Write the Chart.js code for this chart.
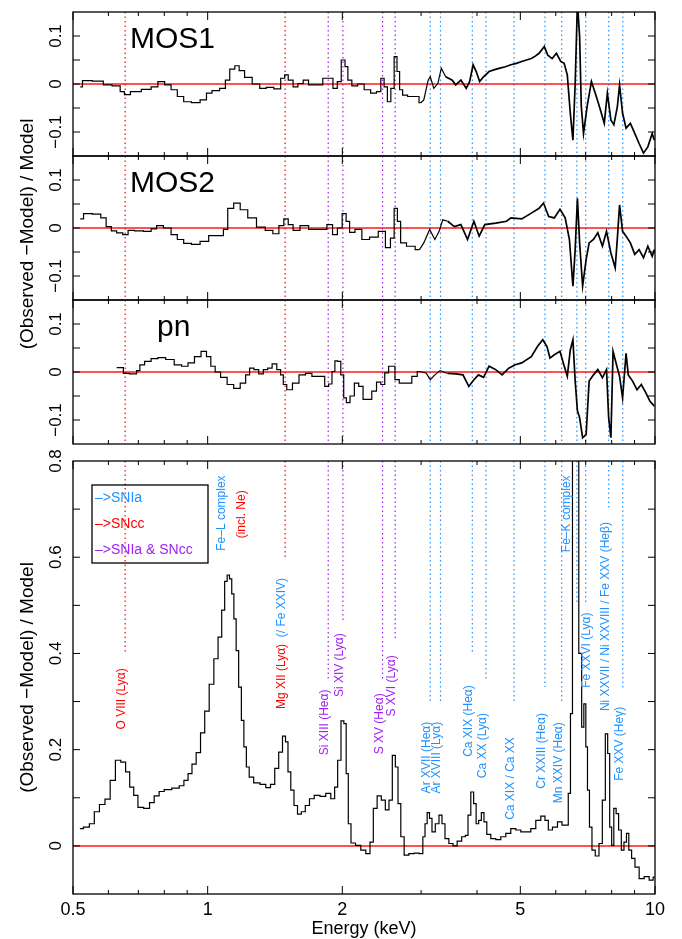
<!DOCTYPE html>
<html>
<head>
<meta charset="utf-8">
<script src="https://cdn.jsdelivr.net/npm/chart.js@4.4.1/dist/chart.umd.min.js"></script>
<style>
  body { margin: 0; background: #fff; }
  #wrap { position: relative; width: 682px; height: 939px; }
  #wrap canvas { position: absolute; left: 0; top: 0; }
</style>
</head>
<body>
<div id="wrap">
  <canvas id="mos1" width="682" height="939"></canvas>
  <canvas id="mos2" width="682" height="939"></canvas>
  <canvas id="pn" width="682" height="939"></canvas>
  <canvas id="sum" width="682" height="939"></canvas>
</div>
<script>
// axis ticks (keV)
const xMajor = [0.5, 1, 2, 5, 10];
const xMajorLabels = ["0.5", "1", "2", "5", "10"];
const xMinor = [0.6, 0.7, 0.8, 0.9, 3, 4, 6, 7, 8, 9];

const resTicks = [-0.1, -0.05, 0, 0.05, 0.1];
const resLabelValues = [-0.1, 0, 0.1];
const resLabels = ["\u22120.1", "0", "0.1"];
const sumTicks = [0, 0.1, 0.2, 0.3, 0.4, 0.5, 0.6, 0.7];
const sumLabelValues = [0, 0.2, 0.4, 0.6, 0.8];
const sumLabels = ["0", "0.2", "0.4", "0.6", "0.8"];

// line energies (keV) and origin
const lineE = [0.654, 1.49, 1.86, 2.006, 2.46, 2.625, 3.145, 3.315, 3.905, 4.19, 4.84, 5.675, 6.185, 6.69, 7.0, 7.88, 8.47];
const lineKind = ["cc", "cc", "both", "both", "both", "both", "ia", "ia", "ia", "ia", "ia", "ia", "ia", "ia", "ia", "ia", "ia"];
// lower end of each dotted line in the summed panel
const lineEndSum = [0.398, 0.597, 0.348, 0.469, 0.348, 0.427, 0.299, 0.299, 0.4, 0.348, 0.299, 0.33, 0.299, 0.5, 0.5, 0.697, 0.327];

const lineLabels = [
    { parts: [["O VIII (Ly\u03b1)", "cc"]], e: 0.654, top: 0.369 },
    { parts: [["Fe\u2013L complex", "ia"]], e: 1.093, top: 0.770 },
    { parts: [["(incl. Ne)", "cc"]], e: 1.209, top: 0.739 },
    { parts: [["Mg XII (Ly\u03b1)", "cc"], ["  (/ Fe XXIV)", "ia"]], e: 1.49, top: 0.557 },
    { parts: [["Si XIII (He\u03b1)", "both"]], e: 1.86, top: 0.325 },
    { parts: [["Si XIV (Ly\u03b1)", "both"]], e: 2.006, top: 0.442 },
    { parts: [["S XV (He\u03b1)", "both"]], e: 2.46, top: 0.317 },
    { parts: [["S XVI (Ly\u03b1)", "both"]], e: 2.625, top: 0.396 },
    { parts: [["Ar XVII (He\u03b1)", "ia"]], e: 3.145, top: 0.258 },
    { parts: [["Ar XVIII (Ly\u03b1)", "ia"]], e: 3.315, top: 0.258 },
    { parts: [["Ca XIX (He\u03b1)", "ia"]], e: 3.905, top: 0.334 },
    { parts: [["Ca XX (Ly\u03b1)", "ia"]], e: 4.19, top: 0.276 },
    { parts: [["Ca XIX / Ca XX", "ia"]], e: 4.84, top: 0.226 },
    { parts: [["Cr XXIII (He\u03b1)", "ia"]], e: 5.675, top: 0.276 },
    { parts: [["Mn XXIV (He\u03b1)", "ia"]], e: 6.185, top: 0.257 },
    { parts: [["Fe\u2013K complex", "ia"]], e: 6.47, top: 0.770 },
    { parts: [["Fe XXVI (Ly\u03b1)", "ia"]], e: 7.17, top: 0.485 },
    { parts: [["Ni XXVII / Ni XXVIII / Fe XXV (He\u03b2)", "ia"]], e: 7.88, top: 0.673 },
    { parts: [["Fe XXV (He\u03b3)", "ia"]], e: 8.47, top: 0.289 }
];

const legendItems = [["\u2013>SNIa", "ia"], ["\u2013>SNcc", "cc"], ["\u2013>SNIa & SNcc", "both"]];

// residuals: [energy keV, (obs - model)/model]
const mos1 = [[0.519,-0.006],[0.531,0.007],[0.575,0.006],[0.594,-0.002],[0.629,-0.004],[0.646,-0.016],[0.657,-0.022],[0.687,-0.016],[0.735,-0.011],[0.760,-0.006],[0.788,0.005],[0.815,-0.002],[0.842,-0.012],[0.869,-0.026],[0.899,-0.037],[0.941,-0.039],[0.983,-0.033],[1.005,-0.019],[1.040,-0.014],[1.087,-0.009],[1.104,0.008],[1.137,0.031],[1.163,0.038],[1.189,0.028],[1.230,0.014],[1.286,0],[1.329,-0.009],[1.375,-0.007],[1.437,-0.010],[1.476,0.012],[1.497,0.019],[1.531,0.008],[1.574,-0.006],[1.609,0.001],[1.662,0.008],[1.700,-0.002],[1.779,-0.002],[1.839,0.012],[1.880,0.012],[1.932,-0.009],[1.966,0.005],[2.012,0.050],[2.044,0.036],[2.072,0.008],[2.129,-0.004],[2.201,0],[2.275,-0.012],[2.353,-0.019],[2.417,-0.016],[2.460,0.012],[2.500,-0.006],[2.544,-0.037],[2.591,-0.009],[2.632,0.057],[2.668,0.026],[2.704,-0.012],[2.752,-0.023],[2.846,-0.026],[2.942,-0.026],[2.995,-0.039],[3.042,-0.033],[3.111,0.008],[3.145,0.015],[3.203,-0.009],[3.270,0.001],[3.329,0.033],[3.405,0.015],[3.522,0.008],[3.585,-0.002],[3.682,0.008],[3.784,-0.009],[3.851,0.005],[3.921,0.040],[3.984,0.026],[4.055,0.005],[4.137,0.015],[4.257,0.026],[4.38,0.030],[4.503,0.033],[4.63,0.036],[4.763,0.040],[4.90,0.043],[5.035,0.047],[5.16,0.050],[5.291,0.053],[5.40,0.058],[5.507,0.064],[5.657,0.078],[5.759,0.060],[5.889,0.053],[6.020,0.064],[6.156,0.047],[6.264,0.043],[6.367,0.019],[6.466,-0.061],[6.554,-0.117],[6.631,0.001],[6.708,0.170],[6.784,0.099],[6.843,-0.047],[6.922,-0.103],[7.050,-0.047],[7.209,0.005],[7.375,-0.023],[7.534,-0.051],[7.702,-0.082],[7.826,-0.019],[7.969,-0.075],[8.092,-0.085],[8.239,-0.047],[8.333,-0.002],[8.463,-0.061],[8.616,-0.092],[8.809,-0.082],[9.011,-0.103],[9.214,-0.124],[9.425,-0.144],[9.638,-0.131],[9.857,-0.103],[9.967,-0.117]];

const mos2 = [[0.519,0.019],[0.537,0.030],[0.569,0.029],[0.585,0.021],[0.601,0.003],[0.617,-0.006],[0.635,-0.010],[0.657,-0.014],[0.671,-0.005],[0.702,-0.006],[0.735,-0.007],[0.760,-0.002],[0.778,0.005],[0.815,0],[0.842,-0.014],[0.869,-0.024],[0.899,-0.032],[0.941,-0.034],[0.983,-0.028],[1.028,-0.016],[1.075,-0.016],[1.094,-0.003],[1.124,0.041],[1.163,0.052],[1.202,0.038],[1.257,0.021],[1.315,0.002],[1.375,-0.005],[1.423,-0.012],[1.463,0.005],[1.497,0.019],[1.531,0.007],[1.574,-0.005],[1.644,0.005],[1.720,-0.003],[1.815,-0.003],[1.880,0.007],[1.924,-0.014],[1.976,0],[2.021,0.030],[2.058,0.014],[2.095,-0.009],[2.174,-0.003],[2.250,-0.024],[2.353,-0.019],[2.460,-0.007],[2.534,-0.041],[2.591,-0.021],[2.632,0.041],[2.679,0.014],[2.721,-0.031],[2.846,-0.038],[2.975,-0.045],[3.042,-0.031],[3.135,-0.003],[3.220,-0.024],[3.292,-0.007],[3.353,0.017],[3.441,0.014],[3.559,0.003],[3.682,0.007],[3.810,-0.024],[3.937,0.014],[4.045,-0.017],[4.165,0.007],[4.405,0.010],[4.657,0.014],[4.763,0.021],[5.035,0.019],[5.291,0.031],[5.507,0.041],[5.632,0.052],[5.786,0.024],[5.955,0.021],[6.132,0.039],[6.298,0.021],[6.437,-0.024],[6.554,-0.121],[6.631,-0.045],[6.708,0.062],[6.784,-0.031],[6.890,-0.121],[7.015,-0.066],[7.125,-0.031],[7.286,-0.024],[7.450,-0.010],[7.629,-0.038],[7.792,-0.007],[7.969,-0.052],[8.147,-0.083],[8.239,-0.021],[8.333,0.048],[8.463,-0.007],[8.616,-0.017],[8.809,-0.031],[9.011,-0.055],[9.214,-0.045],[9.425,-0.062],[9.638,-0.038],[9.857,-0.059],[9.967,-0.045]];

const pn = [[0.626,0.009],[0.646,0.009],[0.650,-0.003],[0.687,-0.004],[0.700,0.003],[0.711,0.015],[0.735,0.022],[0.760,0.028],[0.788,0.030],[0.824,0.026],[0.860,0.015],[0.889,0.012],[0.919,0.019],[0.950,0.032],[0.983,0.043],[1.005,0.032],[1.028,0.012],[1.051,0],[1.087,-0.011],[1.124,-0.026],[1.163,-0.034],[1.202,-0.023],[1.230,-0.006],[1.252,0.008],[1.286,0.005],[1.315,-0.004],[1.349,0.005],[1.375,0.008],[1.412,0.017],[1.443,0.005],[1.468,-0.006],[1.484,-0.026],[1.521,-0.037],[1.574,-0.023],[1.627,-0.006],[1.682,-0.003],[1.739,-0.009],[1.806,-0.009],[1.848,-0.030],[1.880,-0.025],[1.913,0.001],[1.937,0.023],[1.966,0.022],[2.003,-0.006],[2.026,-0.054],[2.058,-0.064],[2.104,-0.050],[2.152,-0.023],[2.201,-0.030],[2.250,-0.057],[2.302,-0.057],[2.353,-0.040],[2.417,-0.021],[2.460,-0.026],[2.516,-0.002],[2.561,0.012],[2.603,0.012],[2.642,-0.016],[2.721,-0.023],[2.813,-0.023],[2.908,-0.009],[2.975,0.001],[3.077,-0.002],[3.145,-0.016],[3.220,-0.006],[3.307,0.003],[3.441,-0.003],[3.590,-0.004],[3.722,-0.006],[3.835,-0.030],[3.937,-0.016],[4.030,-0.006],[4.137,-0.011],[4.257,0.012],[4.405,0.005],[4.553,-0.006],[4.710,0.008],[4.870,0.015],[5.035,0.019],[5.291,0.032],[5.460,0.053],[5.612,0.067],[5.735,0.053],[5.824,0.029],[5.955,0.036],[6.132,0.043],[6.223,0.022],[6.367,-0.009],[6.466,0.046],[6.554,0.067],[6.631,-0.019],[6.708,-0.081],[6.784,-0.095],[6.890,-0.137],[7.015,-0.130],[7.125,-0.019],[7.286,-0.006],[7.450,0.005],[7.629,-0.012],[7.792,0.005],[7.878,-0.095],[7.969,-0.137],[8.058,0.043],[8.202,0.015],[8.333,-0.009],[8.463,-0.054],[8.616,0.039],[8.715,-0.006],[8.910,-0.019],[9.115,-0.037],[9.320,-0.026],[9.535,-0.043],[9.745,-0.061],[9.967,-0.071]];

const summed = [[0.518,0.036],[0.537,0.039],[0.551,0.046],[0.565,0.071],[0.581,0.086],[0.598,0.097],[0.613,0.136],[0.631,0.178],[0.648,0.174],[0.663,0.154],[0.676,0.122],[0.691,0.105],[0.706,0.080],[0.733,0.078],[0.750,0.090],[0.769,0.104],[0.789,0.113],[0.810,0.117],[0.853,0.120],[0.875,0.125],[0.895,0.136],[0.913,0.150],[0.932,0.170],[0.953,0.194],[0.975,0.235],[0.995,0.280],[1.021,0.336],[1.044,0.389],[1.066,0.434],[1.084,0.490],[1.099,0.550],[1.112,0.563],[1.126,0.555],[1.138,0.524],[1.151,0.472],[1.165,0.406],[1.181,0.330],[1.198,0.261],[1.212,0.206],[1.229,0.164],[1.248,0.143],[1.287,0.131],[1.332,0.128],[1.366,0.121],[1.398,0.128],[1.427,0.161],[1.456,0.195],[1.484,0.228],[1.502,0.216],[1.522,0.154],[1.546,0.116],[1.573,0.084],[1.603,0.066],[1.636,0.071],[1.670,0.084],[1.708,0.098],[1.753,0.105],[1.813,0.103],[1.861,0.109],[1.909,0.098],[1.936,0.122],[1.969,0.178],[2.004,0.260],[2.028,0.254],[2.052,0.150],[2.073,0.046],[2.110,0.006],[2.171,0.001],[2.228,-0.009],[2.286,-0.016],[2.326,0.008],[2.366,0.078],[2.419,0.104],[2.470,0.095],[2.521,0.075],[2.565,0.095],[2.609,0.188],[2.646,0.164],[2.682,0.088],[2.723,0.019],[2.776,-0.019],[2.858,-0.016],[2.933,-0.015],[3.009,-0.016],[3.045,0.019],[3.077,0.046],[3.113,0.069],[3.152,0.057],[3.194,0.029],[3.261,0.046],[3.318,0.064],[3.363,0.046],[3.423,0.015],[3.499,0.005],[3.572,0],[3.652,0.010],[3.741,0.019],[3.794,0.022],[3.845,0.064],[3.905,0.112],[3.959,0.088],[4.006,0.046],[4.063,0.053],[4.119,0.069],[4.175,0.050],[4.240,0.024],[4.350,0.015],[4.464,0.013],[4.580,0.019],[4.699,0.026],[4.822,0.036],[4.948,0.033],[5.077,0.029],[5.209,0.029],[5.345,0.036],[5.484,0.053],[5.627,0.062],[5.726,0.053],[5.824,0.033],[5.976,0.039],[6.132,0.050],[6.259,0.043],[6.366,0.043],[6.432,0.109],[6.512,0.275],[6.566,1.3],[6.69,1.3],[6.821,0.400],[6.892,0.247],[6.974,0.295],[7.035,0.206],[7.093,0.116],[7.181,0.039],[7.278,-0.009],[7.429,-0.021],[7.561,0.005],[7.690,0.095],[7.798,0.233],[7.878,0.192],[7.960,0.039],[8.042,0.001],[8.138,0.078],[8.235,0.067],[8.350,0.033],[8.467,-0.009],[8.581,0.008],[8.688,0.026],[8.791,-0.009],[8.942,-0.026],[9.100,-0.044],[9.336,-0.068],[9.580,-0.064],[9.830,-0.071],[9.980,-0.065]];

const colors = { ia: "#1e90ff", cc: "#ff0000", both: "#a020f0" };
const FONT = '"Liberation Sans", Arial, sans-serif';
const YTITLE = "(Observed \u2212Model) / Model";

function rotatedText(ctx, text, x, y, align) {
    ctx.save();
    ctx.translate(x, y);
    ctx.rotate(-Math.PI / 2);
    ctx.textAlign = align;
    ctx.fillText(text, 0, 0);
    ctx.restore();
}

function drawFrame(chart, o) {
    const { ctx, chartArea: a } = chart;
    const x = chart.scales.x, y = chart.scales.y;
    ctx.save();
    ctx.strokeStyle = "#000";
    ctx.lineWidth = 1;
    ctx.beginPath();
    const xTick = (v, len) => {
        const px = x.getPixelForValue(v);
        ctx.moveTo(px, a.bottom); ctx.lineTo(px, a.bottom - len);
        ctx.moveTo(px, a.top); ctx.lineTo(px, a.top + len);
    };
    xMajor.forEach(v => xTick(v, 8));
    xMinor.forEach(v => xTick(v, 4));
    o.yTicks.forEach(v => {
        const py = y.getPixelForValue(v);
        ctx.moveTo(a.left, py); ctx.lineTo(a.left + 7, py);
        ctx.moveTo(a.right, py); ctx.lineTo(a.right - 7, py);
    });
    ctx.stroke();
    ctx.lineWidth = 1.3;
    ctx.strokeRect(a.left, a.top, a.right - a.left, a.bottom - a.top);

    ctx.fillStyle = "#000";
    ctx.font = "17px " + FONT;
    o.yLabelValues.forEach((v, i) => rotatedText(ctx, o.yLabels[i], 61, y.getPixelForValue(v), "center"));

    if (o.name) {
        ctx.font = "30px " + FONT;
        ctx.textAlign = "left";
        ctx.fillText(o.name, o.nameX, a.top + 36);
    }
    if (o.extra) o.extra(ctx, a, x, y);
    ctx.restore();
}

function makePanel(id, o) {
    // coarse bins drawn as a histogram, the fine-binned noisy end as a line
    const low = o.series.filter(p => p[0] <= o.stepUntil);
    const high = o.series.filter(p => p[0] >= low[low.length - 1][0]);
    const toXY = arr => arr.map(p => ({ x: p[0], y: p[1] }));
    const datasets = [{
        data: toXY(low),
        borderColor: "#000",
        borderWidth: 1.2,
        stepped: "middle",
        pointRadius: 0,
        order: 0
    }, {
        data: toXY(high),
        borderColor: "#000",
        borderWidth: 1.2,
        pointRadius: 0,
        order: 0,
        segment: { borderWidth: c => c.p0.parsed.x > o.noisyFrom ? 1.7 : 1.2 }
    }, {
        data: [{ x: 0.5, y: 0 }, { x: 10, y: 0 }],
        borderColor: "rgba(255,0,0,0.9)",
        borderWidth: 1.5,
        pointRadius: 0,
        order: 1
    }];
    lineE.forEach((e, i) => {
        datasets.push({
            data: [{ x: e, y: o.yMax }, { x: e, y: o.lineEnds ? o.lineEnds[i] : o.yMin }],
            borderColor: colors[lineKind[i]],
            borderWidth: 1.2,
            borderDash: [1.5, 3],
            pointRadius: 0,
            order: 2
        });
    });
    return new Chart(document.getElementById(id), {
        type: "line",
        data: { datasets: datasets },
        options: {
            responsive: false,
            animation: false,
            events: [],
            devicePixelRatio: 1,
            layout: { padding: { left: 73, right: 27, top: o.top, bottom: 939 - o.bottom } },
            plugins: { legend: { display: false }, tooltip: { enabled: false } },
            scales: {
                x: { type: "logarithmic", min: 0.5, max: 10, display: false },
                y: { type: "linear", min: o.yMin, max: o.yMax, display: false }
            }
        },
        plugins: [{ id: "frame", afterDraw: chart => drawFrame(chart, o) }]
    });
}

const resOpts = {
    yMin: -0.15, yMax: 0.15, stepUntil: 3.0, noisyFrom: 3.4,
    yTicks: resTicks, yLabelValues: resLabelValues, yLabels: resLabels
};

makePanel("mos1", { ...resOpts, series: mos1, top: 12, bottom: 156, name: "MOS1", nameX: 130 });
makePanel("mos2", {
    ...resOpts, series: mos2, top: 156, bottom: 300, name: "MOS2", nameX: 130,
    extra: (ctx) => {
        ctx.font = "19px " + FONT;
        rotatedText(ctx, YTITLE, 33, 234, "center");
    }
});
makePanel("pn", { ...resOpts, series: pn, top: 300, bottom: 444, name: "pn", nameX: 157 });

makePanel("sum", {
    series: summed, top: 461, bottom: 894, yMin: -0.1, yMax: 0.8, stepUntil: 11, noisyFrom: 11,
    yTicks: sumTicks, yLabelValues: sumLabelValues, yLabels: sumLabels,
    lineEnds: lineEndSum,
    extra: (ctx, a, x, y) => {
        // x tick labels and titles
        ctx.font = "18px " + FONT;
        ctx.textAlign = "center";
        xMajor.forEach((v, i) => ctx.fillText(xMajorLabels[i], x.getPixelForValue(v), 915));
        ctx.fillText("Energy (keV)", (a.left + a.right) / 2, 934);
        ctx.font = "19px " + FONT;
        rotatedText(ctx, YTITLE, 33, (a.top + a.bottom) / 2, "center");

        // legend box
        ctx.lineWidth = 1.3;
        ctx.strokeStyle = "#000";
        ctx.strokeRect(92, 485, 116, 78);
        ctx.font = "14px " + FONT;
        ctx.textAlign = "left";
        legendItems.forEach((it, i) => {
            ctx.fillStyle = colors[it[1]];
            ctx.fillText(it[0], 95, 502 + i * 26);
        });

        // line identifications, rotated, ending at their top value
        ctx.font = "12px " + FONT;
        lineLabels.forEach(lb => {
            const widths = lb.parts.map(p => ctx.measureText(p[0]).width);
            const total = widths.reduce((s, w) => s + w, 0);
            ctx.save();
            ctx.translate(x.getPixelForValue(lb.e), y.getPixelForValue(lb.top) + total);
            ctx.rotate(-Math.PI / 2);
            ctx.textAlign = "left";
            let off = 0;
            lb.parts.forEach((p, i) => {
                ctx.fillStyle = colors[p[1]];
                ctx.fillText(p[0], off, 0);
                off += widths[i];
            });
            ctx.restore();
        });
    }
});
</script>
</body>
</html>
